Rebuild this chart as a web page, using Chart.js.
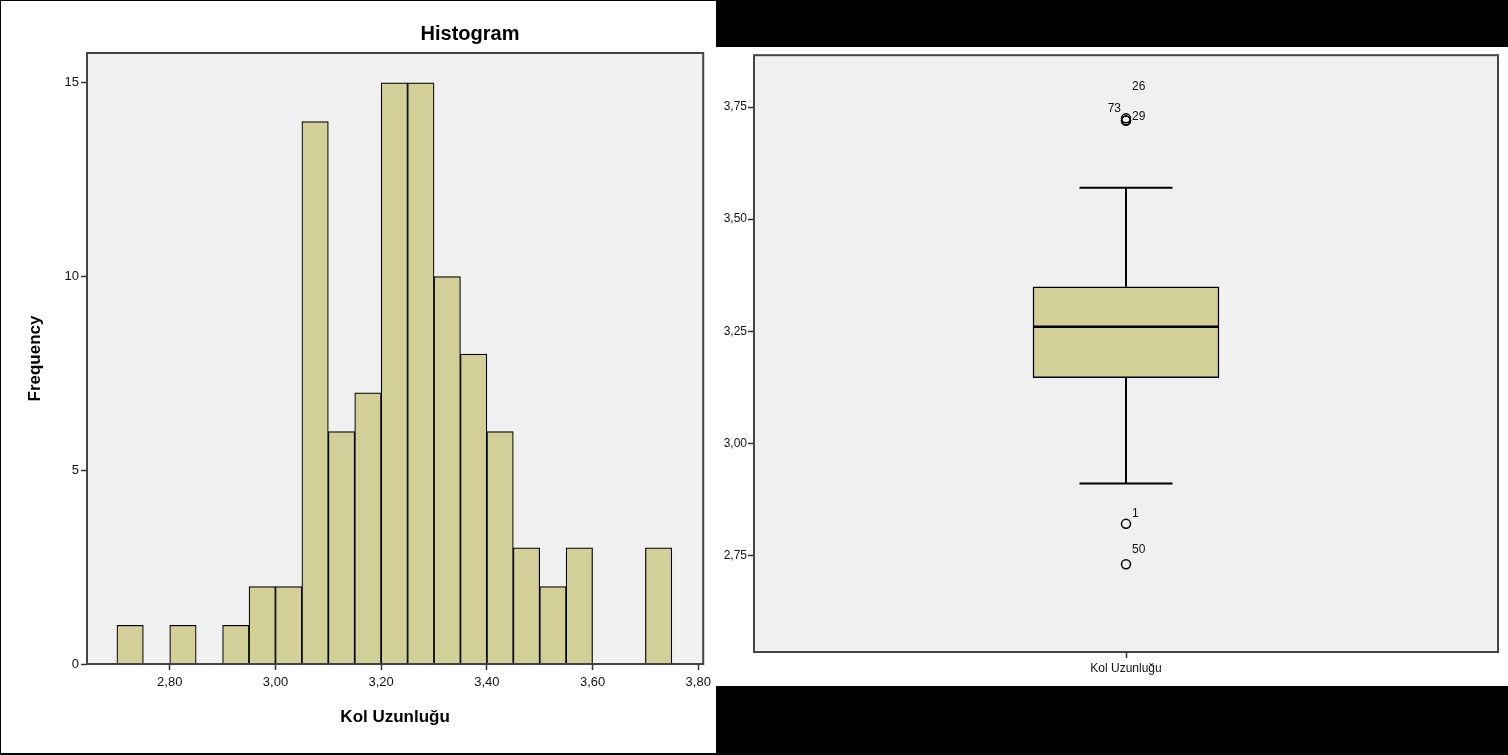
<!DOCTYPE html>
<html>
<head>
<meta charset="utf-8">
<script src="https://cdn.jsdelivr.net/npm/chart.js@4.4.0/dist/chart.umd.min.js"></script>
<style>
  html, body { margin: 0; padding: 0; background: #000; width: 1508px; height: 755px; overflow: hidden; }
  .panel { position: absolute; background: #fff; }
  #histWrap { left: 1px; top: 1px; width: 715px; height: 752px; }
  #boxWrap { left: 716px; top: 47px; width: 792px; height: 639px; }
</style>
</head>
<body>
<div class="panel" id="histWrap"><canvas id="hist" width="715" height="752"></canvas></div>
<div class="panel" id="boxWrap"><canvas id="box" width="792" height="639"></canvas></div>
<script>
// histogram data (bin width 0.05)
const binStarts = [2.70, 2.75, 2.80, 2.85, 2.90, 2.95, 3.00, 3.05, 3.10, 3.15, 3.20,
                   3.25, 3.30, 3.35, 3.40, 3.45, 3.50, 3.55, 3.60, 3.65, 3.70];
const binWidth = 0.05;
const frequencies = [1, 0, 1, 0, 1, 2, 2, 14, 6, 7, 15, 15, 10, 8, 6, 3, 2, 3, 0, 0, 3];
const histXTicks = [2.80, 3.00, 3.20, 3.40, 3.60, 3.80];
const histYTicks = [0, 5, 10, 15];

// boxplot data
const boxCategory = ['Kol Uzunluğu'];
const boxQuartiles = [3.146, 3.26, 3.349];   // Q1, median, Q3
const boxWhiskers = [2.91, 3.57];            // low, high
const outlierIds = ['1', '50', '73', '29', '26'];
const outlierValues = [2.82, 2.73, 3.72, 3.72, 3.725];
const boxYTicks = [2.75, 3.00, 3.25, 3.50, 3.75];

const FONT = "Arial, 'Liberation Sans', sans-serif";
const BAR_FILL = '#D3CF99';
const PLOT_BG = '#F0F0F0';
const comma = v => Number(v).toFixed(2).replace('.', ',');

const plotFrame = {
  id: 'plotFrame',
  beforeDraw(chart) {
    const a = chart.chartArea, ctx = chart.ctx;
    ctx.save();
    ctx.fillStyle = PLOT_BG;
    ctx.fillRect(a.left, a.top, a.right - a.left, a.bottom - a.top);
    ctx.restore();
  },
  afterDraw(chart) {
    const a = chart.chartArea, ctx = chart.ctx;
    ctx.save();
    ctx.strokeStyle = '#444';
    ctx.lineWidth = 2;
    ctx.strokeRect(a.left, a.top, a.right - a.left, a.bottom - a.top);
    ctx.restore();
  }
};

const histTitle = {
  id: 'histTitle',
  afterDraw(chart) {
    const ctx = chart.ctx;
    ctx.save();
    ctx.font = 'bold 20px ' + FONT;
    ctx.fillStyle = '#000';
    ctx.textAlign = 'center';
    ctx.textBaseline = 'middle';
    ctx.fillText('Histogram', 469, 33);
    ctx.restore();
  }
};

new Chart(document.getElementById('hist'), {
  type: 'bar',
  data: {
    datasets: [{
      data: binStarts.map((b, i) => ({ x: b + binWidth / 2, y: frequencies[i] })),
      backgroundColor: BAR_FILL,
      borderColor: '#000',
      borderWidth: 1.2,
      borderSkipped: 'start',
      barPercentage: 1,
      categoryPercentage: 1
    }]
  },
  options: {
    responsive: false,
    animation: false,
    layout: { padding: { top: 52, right: 11, left: 0, bottom: 0 } },
    plugins: { legend: { display: false }, tooltip: { enabled: false } },
    scales: {
      x: {
        type: 'linear',
        offset: false,
        min: 2.6434,
        max: 3.8094,
        afterFit: s => { s.height = 89; },
        afterBuildTicks: s => { s.ticks = histXTicks.map(v => ({ value: v })); },
        grid: { offset: false, drawOnChartArea: false, tickLength: 6, tickColor: '#333', tickWidth: 1.5 },
        border: { display: false },
        ticks: { callback: comma, color: '#111', font: { family: FONT, size: 13 }, padding: 5, maxRotation: 0, autoSkip: false },
        title: { display: true, text: 'Kol Uzunluğu', color: '#000', font: { family: FONT, size: 17, weight: 'bold' }, padding: { top: 0, bottom: 25 } }
      },
      y: {
        min: 0,
        max: 15.77,
        afterFit: s => { s.width = 86; },
        afterBuildTicks: s => { s.ticks = histYTicks.map(v => ({ value: v })); },
        grid: { drawOnChartArea: false, tickLength: 6, tickColor: '#333', tickWidth: 1.5 },
        border: { display: false },
        ticks: { color: '#111', font: { family: FONT, size: 13 }, padding: 2 },
        title: { display: true, text: 'Frequency', color: '#000', font: { family: FONT, size: 17, weight: 'bold' }, padding: { top: 24, bottom: 0 } }
      }
    }
  },
  plugins: [plotFrame, histTitle]
});

// whiskers, caps and median line drawn through the chart scales
const boxParts = {
  id: 'boxParts',
  afterDatasetsDraw(chart) {
    const ctx = chart.ctx, y = chart.scales.y;
    const bar = chart.getDatasetMeta(0).data[0];
    const cx = bar.x, half = bar.width / 2, cap = bar.width / 4;
    const q1 = y.getPixelForValue(boxQuartiles[0]);
    const med = y.getPixelForValue(boxQuartiles[1]);
    const q3 = y.getPixelForValue(boxQuartiles[2]);
    const lo = y.getPixelForValue(boxWhiskers[0]);
    const hi = y.getPixelForValue(boxWhiskers[1]);
    ctx.save();
    ctx.strokeStyle = '#000';
    ctx.lineWidth = 2;
    ctx.beginPath();
    ctx.moveTo(cx, q3); ctx.lineTo(cx, hi);
    ctx.moveTo(cx - cap, hi); ctx.lineTo(cx + cap, hi);
    ctx.moveTo(cx, q1); ctx.lineTo(cx, lo);
    ctx.moveTo(cx - cap, lo); ctx.lineTo(cx + cap, lo);
    ctx.stroke();
    ctx.lineWidth = 2.5;
    ctx.beginPath();
    ctx.moveTo(cx - half, med); ctx.lineTo(cx + half, med);
    ctx.stroke();
    ctx.restore();
  }
};

// case number labels beside outliers
const labelOffsets = { '73': [-5, -12, 'right'], '26': [6, -32, 'left'], '29': [6, -4, 'left'], '50': [6, -14, 'left'] };
const outlierLabels = {
  id: 'outlierLabels',
  afterDatasetsDraw(chart) {
    const ctx = chart.ctx;
    const pts = chart.getDatasetMeta(1).data;
    ctx.save();
    ctx.font = '12px ' + FONT;
    ctx.fillStyle = '#111';
    ctx.textBaseline = 'middle';
    pts.forEach((p, i) => {
      const id = outlierIds[i];
      const o = labelOffsets[id] || [6, -10, 'left'];
      ctx.textAlign = o[2];
      ctx.fillText(id, p.x + o[0], p.y + o[1]);
    });
    ctx.restore();
  }
};

new Chart(document.getElementById('box'), {
  type: 'bar',
  data: {
    labels: boxCategory,
    datasets: [{
      data: [[boxQuartiles[0], boxQuartiles[2]]],
      backgroundColor: BAR_FILL,
      borderColor: '#000',
      borderWidth: 1.5,
      borderSkipped: false,
      barThickness: 186
    }, {
      type: 'scatter',
      data: outlierValues.map(v => ({ x: boxCategory[0], y: v })),
      pointStyle: 'circle',
      pointRadius: 4.5,
      pointBorderWidth: 1.5,
      borderColor: '#000',
      backgroundColor: 'rgba(0,0,0,0)'
    }]
  },
  options: {
    responsive: false,
    animation: false,
    layout: { padding: { top: 7, right: 10, left: 0, bottom: 0 } },
    plugins: { legend: { display: false }, tooltip: { enabled: false } },
    scales: {
      x: {
        type: 'category',
        afterFit: s => { s.height = 34; },
        grid: { drawOnChartArea: false, offset: false, tickLength: 6, tickColor: '#333', tickWidth: 1.5 },
        border: { display: false },
        ticks: { color: '#111', font: { family: FONT, size: 12 }, padding: 3 }
      },
      y: {
        min: 2.534,
        max: 3.866,
        afterFit: s => { s.width = 38; },
        afterBuildTicks: s => { s.ticks = boxYTicks.map(v => ({ value: v })); },
        grid: { drawOnChartArea: false, tickLength: 6, tickColor: '#333', tickWidth: 1.5 },
        border: { display: false },
        ticks: { callback: comma, color: '#111', font: { family: FONT, size: 12 }, padding: 1 }
      }
    }
  },
  plugins: [plotFrame, boxParts, outlierLabels]
});
</script>
</body>
</html>
